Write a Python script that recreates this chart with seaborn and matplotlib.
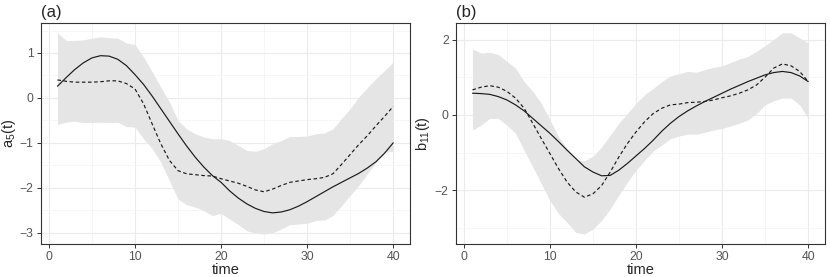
import numpy as np
import pandas as pd
import matplotlib
matplotlib.use('Agg')
import matplotlib.pyplot as plt
import seaborn as sns

# time grid
time = list(range(1, 41))

# panel (a): a_5(t)
a_true = [0.26, 0.45, 0.63, 0.78, 0.89, 0.94, 0.93, 0.86, 0.72, 0.52,
          0.30, 0.04, -0.24, -0.52, -0.80, -1.07, -1.32, -1.54, -1.73, -1.88,
          -2.07, -2.23, -2.36, -2.46, -2.53, -2.56, -2.54, -2.49, -2.41, -2.31,
          -2.20, -2.09, -1.98, -1.88, -1.78, -1.68, -1.56, -1.42, -1.23, -1.00]
a_est = [0.40, 0.37, 0.35, 0.35, 0.35, 0.36, 0.38, 0.38, 0.32, 0.20,
         -0.13, -0.58, -1.02, -1.39, -1.62, -1.69, -1.71, -1.73, -1.74, -1.80,
         -1.85, -1.90, -1.97, -2.05, -2.09, -2.03, -1.95, -1.88, -1.85, -1.82,
         -1.80, -1.77, -1.69, -1.48, -1.26, -1.04, -0.84, -0.62, -0.41, -0.19]
a_upper = [1.45, 1.28, 1.28, 1.29, 1.33, 1.36, 1.34, 1.33, 1.22, 1.19,
           0.91, 0.58, 0.24, -0.09, -0.50, -0.69, -0.80, -0.87, -0.91, -0.91,
           -0.95, -1.06, -1.17, -1.19, -1.13, -1.02, -0.95, -0.86, -0.86, -0.85,
           -0.80, -0.78, -0.69, -0.46, -0.24, 0.02, 0.23, 0.43, 0.61, 0.80]
a_lower = [-0.59, -0.54, -0.52, -0.55, -0.55, -0.54, -0.55, -0.54, -0.64, -0.65,
           -0.91, -1.13, -1.43, -1.84, -2.25, -2.38, -2.43, -2.51, -2.62, -2.57,
           -2.70, -2.82, -2.96, -3.01, -3.03, -3.00, -2.92, -2.82, -2.81, -2.79,
           -2.73, -2.72, -2.62, -2.40, -2.17, -1.95, -1.69, -1.43, -1.21, -1.19]

# panel (b): b_11(t)
b_true = [0.58, 0.57, 0.55, 0.49, 0.40, 0.27, 0.11, -0.09, -0.29, -0.49,
          -0.71, -0.94, -1.16, -1.38, -1.52, -1.62, -1.61, -1.47, -1.29, -1.09,
          -0.89, -0.67, -0.43, -0.22, -0.04, 0.11, 0.24, 0.36, 0.47, 0.58,
          0.69, 0.79, 0.89, 0.98, 1.07, 1.13, 1.16, 1.13, 1.04, 0.89]
b_est = [0.67, 0.74, 0.78, 0.74, 0.63, 0.45, 0.18, -0.22, -0.63, -1.03,
         -1.43, -1.79, -2.05, -2.19, -2.10, -1.88, -1.52, -1.12, -0.76, -0.45,
         -0.18, 0.04, 0.18, 0.27, 0.29, 0.33, 0.34, 0.36, 0.40, 0.46,
         0.51, 0.58, 0.67, 0.80, 1.01, 1.25, 1.36, 1.31, 1.16, 0.89]
b_upper = [1.76, 1.65, 1.67, 1.61, 1.43, 1.25, 0.89, 0.63, 0.31, -0.13,
           -0.58, -0.89, -1.19, -1.22, -1.10, -0.85, -0.54, -0.22, 0.04, 0.31,
           0.54, 0.71, 0.89, 1.04, 1.10, 1.16, 1.14, 1.21, 1.27, 1.31,
           1.40, 1.49, 1.56, 1.70, 1.85, 2.01, 2.19, 2.19, 2.05, 1.92]
b_lower = [-0.40, -0.27, -0.09, -0.09, -0.27, -0.49, -0.94, -1.38, -1.83, -2.28,
           -2.63, -2.86, -3.13, -3.17, -3.04, -2.81, -2.50, -2.14, -1.79, -1.47,
           -1.21, -0.96, -0.80, -0.63, -0.56, -0.51, -0.51, -0.46, -0.40, -0.36,
           -0.29, -0.22, -0.13, 0.04, 0.27, 0.38, 0.45, 0.45, 0.27, -0.09]

sns.set_style('white')
plt.rcParams['font.family'] = ['Liberation Sans', 'DejaVu Sans']
plt.rcParams['mathtext.fontset'] = 'custom'
plt.rcParams['mathtext.rm'] = 'Liberation Sans'
plt.rcParams['mathtext.it'] = 'Liberation Sans'
plt.rcParams['mathtext.default'] = 'regular'


def draw_panel(ax, true, est, lower, upper, ylabel, title, yticks, yminor, ylab_x):
    df = pd.DataFrame({'time': time, 'true': true, 'est': est})
    ax.fill_between(time, lower, upper, color='#E5E5E5', linewidth=0, zorder=1)
    sns.lineplot(data=df, x='time', y='true', color='#1a1a1a', linewidth=0.85,
                 ax=ax, zorder=3)
    sns.lineplot(data=df, x='time', y='est', color='#1a1a1a', linewidth=0.85,
                 linestyle=(0, (3, 2.2)), ax=ax, zorder=3)
    lo = min(lower + true + est)
    hi = max(upper + true + est)
    pad = (hi - lo) * 0.05
    ax.set_ylim(lo - pad, hi + pad)
    ax.set_xlim(1 - 39 * 0.05, 40 + 39 * 0.05)
    ax.set_xticks([0, 10, 20, 30, 40])
    ax.set_xticks([5, 15, 25, 35], minor=True)
    ax.set_yticks(yticks)
    ax.set_yticks(yminor, minor=True)
    ax.grid(which='major', color='#EBEBEB', linewidth=0.8, zorder=0)
    ax.grid(which='minor', color='#F3F3F3', linewidth=0.5, zorder=0)
    ax.set_axisbelow(True)
    for s in ax.spines.values():
        s.set_color('#333333')
        s.set_linewidth(0.8)
    ax.tick_params(which='major', length=3, width=0.7, color='#333333',
                   labelsize=8.8, labelcolor='#555555', pad=2, direction='out',
                   bottom=True, left=True)
    ax.tick_params(which='minor', length=0)
    ax.set_xlabel('time', fontsize=10.5, labelpad=0)
    ax.set_ylabel(ylabel, fontsize=10.5)
    ax.yaxis.set_label_coords(ylab_x, 0.5)
    ax.set_title(title, loc='left', fontsize=12, pad=4)


fig = plt.figure(figsize=(8.3, 2.77), dpi=100)
ax1 = fig.add_axes([0.049, 0.119, 0.445, 0.799])
ax2 = fig.add_axes([0.549, 0.119, 0.445, 0.799])

draw_panel(ax1, a_true, a_est, a_lower, a_upper, 'a$_5$(t)', '(a)',
           [-3, -2, -1, 0, 1], [-2.5, -1.5, -0.5, 0.5, 1.5], -0.061)
draw_panel(ax2, b_true, b_est, b_lower, b_upper, 'b$_{11}$(t)', '(b)',
           [-2, 0, 2], [-3, -1, 1], -0.064)

fig.savefig('out.png', dpi=100)
